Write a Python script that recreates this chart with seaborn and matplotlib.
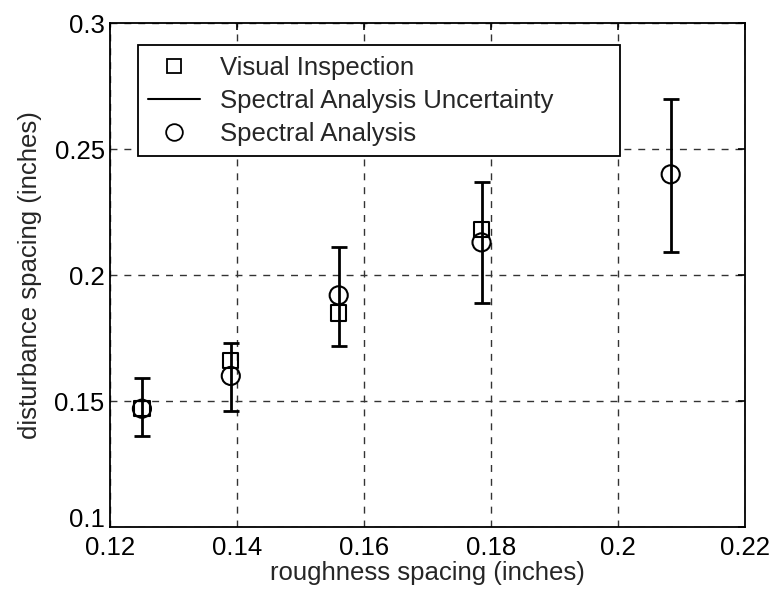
import matplotlib
matplotlib.use("Agg")
import matplotlib.pyplot as plt
import matplotlib.transforms as mtransforms
from matplotlib.lines import Line2D
import seaborn as sns
import pandas as pd

# roughness spacing (inches)
roughness = [0.125, 0.139, 0.156, 0.1785, 0.2083]
# visual inspection (no value at the last roughness)
visual = [0.147, 0.166, 0.185, 0.218, None]
# spectral analysis and its uncertainty bounds
spectral = [0.147, 0.160, 0.192, 0.213, 0.240]
spectral_low = [0.136, 0.146, 0.172, 0.189, 0.209]
spectral_high = [0.159, 0.173, 0.211, 0.237, 0.270]

x_ticks = [0.12, 0.14, 0.16, 0.18, 0.2, 0.22]
x_tick_labels = ["0.12", "0.14", "0.16", "0.18", "0.2", "0.22"]
y_ticks = [0.1, 0.15, 0.2, 0.25, 0.3]
y_tick_labels = ["0.1", "0.15", "0.2", "0.25", "0.3"]

sns.set_style("white")
plt.rcParams["font.family"] = ["Liberation Sans", "DejaVu Sans"]
FS = 18.5

fig = plt.figure(figsize=(7.76, 5.93), dpi=100)
ax = fig.add_axes([0.142, 0.111, 0.818, 0.850])

df = pd.DataFrame({
    "roughness": roughness,
    "visual": visual,
    "spectral": spectral,
    "low": spectral_low,
    "high": spectral_high,
})

# uncertainty bars
yerr = [df["spectral"] - df["low"], df["high"] - df["spectral"]]
ax.errorbar(df["roughness"], df["spectral"], yerr=yerr, fmt="none",
            ecolor="black", elinewidth=2.0, capsize=5.5, capthick=2.0, zorder=3)

sns.scatterplot(data=df.dropna(subset=["visual"]), x="roughness", y="visual",
                marker="s", s=120, facecolors="none", edgecolor="black",
                linewidth=1.5, ax=ax, zorder=4)
sns.scatterplot(data=df, x="roughness", y="spectral", marker="o", s=170,
                facecolors="none", edgecolor="black", linewidth=1.5,
                ax=ax, zorder=4)

ax.set_xlim(0.12, 0.22)
ax.set_ylim(0.1, 0.3)
ax.set_xticks(x_ticks)
ax.set_xticklabels(x_tick_labels)
ax.set_yticks(y_ticks)
ax.set_yticklabels(y_tick_labels)
ax.grid(True, linestyle=(0, (5, 5)), color="#333333", linewidth=1.0)
ax.tick_params(direction="in", length=5, width=1.2, labelsize=FS,
               colors="black", top=True, right=True)
ax.tick_params(axis="x", pad=6)
ax.tick_params(axis="y", pad=4)
for sp in ax.spines.values():
    sp.set_color("black")
    sp.set_linewidth(1.3)

# lift the bottom y label a little, as in the original
lbl = ax.get_yticklabels()[0]
lbl.set_transform(lbl.get_transform() +
                  mtransforms.ScaledTranslation(0, 7 / 72, fig.dpi_scale_trans))

ax.set_xlabel("roughness spacing (inches)", fontsize=FS, labelpad=1)
ax.set_ylabel("disturbance spacing (inches)", fontsize=FS, labelpad=9)

handles = [
    Line2D([], [], marker="s", linestyle="none", markerfacecolor="none",
           markeredgecolor="black", markersize=10, markeredgewidth=1.3),
    Line2D([], [], color="black", linewidth=1.5),
    Line2D([], [], marker="o", linestyle="none", markerfacecolor="none",
           markeredgecolor="black", markersize=12, markeredgewidth=1.3),
]
labels = ["Visual Inspection", "Spectral Analysis Uncertainty", "Spectral Analysis"]
leg = ax.legend(handles, labels, loc="upper left",
                bbox_to_anchor=(0.044, 0.738, 0.759, 0.218), mode="expand",
                fontsize=FS, frameon=True, fancybox=False, framealpha=1,
                edgecolor="black", handlelength=2.0, handletextpad=0.8,
                labelspacing=0.36, borderpad=0.4, borderaxespad=0)
leg.get_frame().set_linewidth(1.3)

fig.savefig("out.png", dpi=100)
